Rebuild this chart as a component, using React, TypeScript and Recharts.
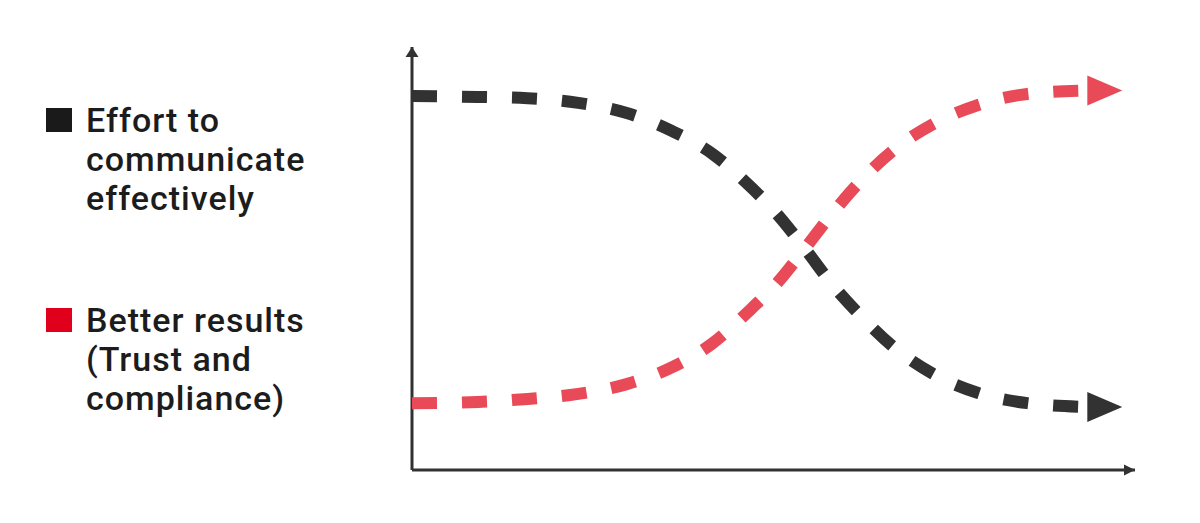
import { Line, LineChart, ReferenceDot, ReferenceLine, XAxis, YAxis } from "recharts";

// x positions (0-100 across the horizontal axis); the last one is the arrowhead base
const xPos = [0, 9.1, 16.0, 23.0, 29.7, 36.0, 41.6, 46.3, 50.6, 54.4, 58.2, 62.2, 66.8, 72.1, 78.3, 85.1, 93.4];
const effort = [88.4, 88.2, 87.9, 86.8, 84.4, 80.1, 74.7, 67.8, 60.3, 52.2, 43.7, 36.2, 28.8, 22.7, 18.2, 15.8, 14.9];
const results = [15.8, 16.1, 16.8, 18.0, 20.3, 24.3, 30.0, 37.1, 44.4, 52.5, 60.8, 68.6, 75.9, 81.8, 86.3, 88.9, 89.7];

const effortLabel = ["Effort to", "communicate", "effectively"];
const resultsLabel = ["Better results", "(Trust and", "compliance)"];

const DARK = "#323232";
const RED = "#e84a58";

const data = xPos.map((x, i) => ({ x, effort: effort[i], results: results[i] }));

const arrowDot = (color: string) => (props: any) => {
  const { cx, cy, index } = props;
  if (index !== data.length - 1) return <g key={index} />;
  return (
    <polygon
      key={index}
      points={`${cx + 35},${cy} ${cx},${cy - 15} ${cx},${cy + 15}`}
      fill={color}
    />
  );
};

function LegendItem({ color, lines, top }: { color: string; lines: string[]; top: number }) {
  return (
    <div style={{ position: "absolute", left: 46, top }}>
      <div style={{ position: "absolute", left: 0, top: 7, width: 26, height: 24, background: color }} />
      <div
        style={{
          position: "absolute",
          left: 40,
          top: 0,
          fontFamily: "Roboto",
          fontWeight: 500,
          fontSize: 34,
          lineHeight: "39px",
          letterSpacing: 1,
          color: "#1c1c1c",
          whiteSpace: "nowrap",
        }}
      >
        {lines.map((l) => (
          <div key={l}>{l}</div>
        ))}
      </div>
    </div>
  );
}

export default function App() {
  return (
    <div style={{ position: "absolute", left: 0, top: 0, width: 1200, height: 523, background: "#fff" }}>
      <LegendItem color="#1a1a1a" lines={effortLabel} top={101} />
      <LegendItem color="#e0001b" lines={resultsLabel} top={301} />
      <div style={{ position: "absolute", left: 0, top: 0 }}>
        <LineChart width={1200} height={523} data={data} margin={{ top: 47, left: 412, right: 65, bottom: 53 }}>
          <XAxis type="number" dataKey="x" domain={[0, 100]} hide />
          <YAxis type="number" domain={[0, 100]} hide />
          <ReferenceLine x={0} stroke={DARK} strokeWidth={3} ifOverflow="visible" />
          <ReferenceLine y={0} stroke={DARK} strokeWidth={3} ifOverflow="visible" />
          <ReferenceDot
            x={0}
            y={100}
            ifOverflow="visible"
            shape={(p: any) => (
              <polygon points={`${p.cx},${p.cy} ${p.cx - 6.5},${p.cy + 10} ${p.cx + 6.5},${p.cy + 10}`} fill={DARK} />
            )}
          />
          <ReferenceDot
            x={100}
            y={0}
            ifOverflow="visible"
            shape={(p: any) => (
              <polygon points={`${p.cx},${p.cy} ${p.cx - 11},${p.cy - 5.5} ${p.cx - 11},${p.cy + 5.5}`} fill={DARK} />
            )}
          />
          <Line
            type="monotone"
            dataKey="effort"
            stroke={DARK}
            strokeWidth={12}
            strokeDasharray="25 25"
            dot={arrowDot(DARK)}
            activeDot={false}
            isAnimationActive={false}
          />
          <Line
            type="monotone"
            dataKey="results"
            stroke={RED}
            strokeWidth={12}
            strokeDasharray="25 25"
            dot={arrowDot(RED)}
            activeDot={false}
            isAnimationActive={false}
          />
        </LineChart>
      </div>
    </div>
  );
}
